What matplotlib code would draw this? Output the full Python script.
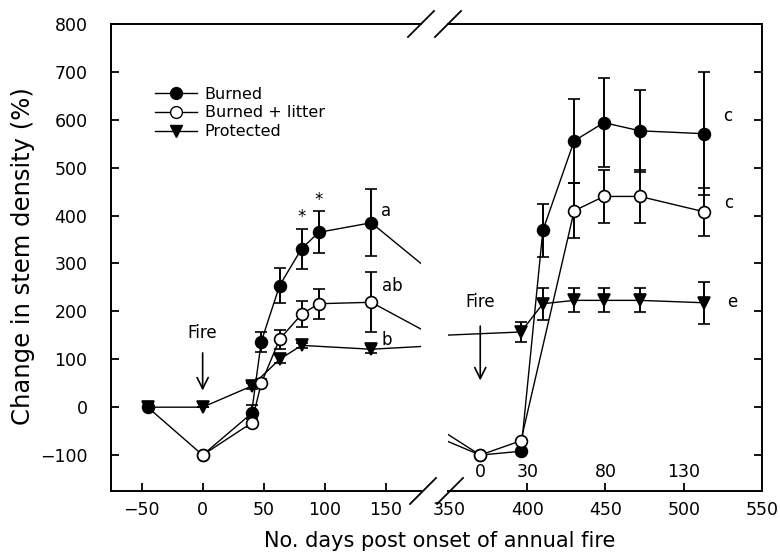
import numpy as np
import matplotlib
matplotlib.use("Agg")
import matplotlib.pyplot as plt
from matplotlib.lines import Line2D

# days since onset of the first annual fire (second fire starts at day 370)
burned_days = [-45, 0, 40, 48, 63, 81, 95, 138, 370, 396, 410, 430, 449, 472, 513]
burned_val = [0, -100, -13, 137, 254, 331, 365, 385, -100, -92, 369, 556, 594, 577, 571]
burned_err = [0, 0, 18, 21, 37, 42, 44, 70, 0, 0, 56, 88, 93, 85, 128]

litter_days = [0, 40, 48, 63, 81, 95, 138, 370, 396, 430, 449, 472, 513]
litter_val = [-100, -33, 50, 142, 194, 216, 219, -100, -70, 410, 440, 440, 408]
litter_err = [0, 8, 8, 20, 27, 31, 63, 0, 0, 57, 55, 55, 50]

prot_days = [-45, 0, 40, 63, 81, 138, 396, 410, 430, 449, 472, 513]
prot_val = [0, 0, 44, 100, 129, 121, 157, 216, 223, 223, 223, 218]
prot_err = [0, 0, 6, 8, 6, 8, 21, 33, 25, 25, 25, 44]

second_fire = 370
second_offsets = [0, 30, 80, 130]

# significance letters: (panel, x, y, text)
letters_left = [(150, 410, "a"), (155, 254, "ab"), (151, 140, "b")]
letters_right = [(528, 608, "c"), (529, 427, "c"), (531, 219, "e")]
stars = [(81, 398), (95, 433)]

plt.rcParams["font.family"] = "DejaVu Sans"
fig = plt.figure(figsize=(7.8, 5.58), dpi=100)
W, H = 780.0, 558.0
ax1 = fig.add_axes([111 / W, 67 / H, 310 / W, 467 / H])
ax2 = fig.add_axes([448 / W, 67 / H, 314 / W, 467 / H])

ebkw = dict(color="black", lw=1.0, elinewidth=1.4, capsize=4.5, capthick=1.4,
            markeredgewidth=1.2, markeredgecolor="black")
for ax in (ax1, ax2):
    ax.errorbar(prot_days, prot_val, yerr=prot_err, fmt="-v", ms=8,
                markerfacecolor="black", zorder=2, **ebkw)
    ax.errorbar(burned_days, burned_val, yerr=burned_err, fmt="-o", ms=8.5,
                markerfacecolor="black", zorder=3, **ebkw)
    ax.errorbar(litter_days, litter_val, yerr=litter_err, fmt="-o", ms=8.5,
                markerfacecolor="white", zorder=4, **ebkw)
    ax.set_ylim(-175, 800)
    ax.set_yticks(np.arange(-100, 801, 100))
    ax.tick_params(direction="in", length=6, width=1.3, labelsize=12.5)
    ax.tick_params(axis="x", pad=7)
    for s in ax.spines.values():
        s.set_linewidth(1.4)

ax1.set_xlim(-75, 178.7)
ax1.set_xticks([-50, 0, 50, 100, 150])
ax1.set_xticklabels(["\u221250", "0", "50", "100", "150"])
ax1.set_yticklabels(["\u2212100"] + [str(v) for v in range(0, 801, 100)])
ax1.tick_params(axis="y", pad=17)
ax1.spines["right"].set_visible(False)

ax2.set_xlim(349.4, 550)
ax2.set_xticks([350, 400, 450, 500, 550])
ax2.xaxis.get_major_ticks()[0].tick1line.set_visible(False)
ax2.xaxis.get_major_ticks()[-1].tick1line.set_visible(False)
ax2.spines["left"].set_visible(False)
ax2.yaxis.tick_right()
ax2.tick_params(axis="y", labelright=False)

# fire arrows
ax1.annotate("", xy=(0, 29), xytext=(0, 119),
             arrowprops=dict(arrowstyle="->", lw=1.2, mutation_scale=20, color="black"))
ax1.text(0, 154, "Fire", ha="center", va="center", fontsize=12)
ax2.annotate("", xy=(second_fire, 50), xytext=(second_fire, 175),
             arrowprops=dict(arrowstyle="->", lw=1.2, mutation_scale=20, color="black"))
ax2.text(second_fire, 219, "Fire", ha="center", va="center", fontsize=12)

for d in second_offsets:
    ax2.text(second_fire + d, -136, str(d), ha="center", va="center", fontsize=12.5)

for x, y, t in letters_left:
    ax1.text(x, y, t, ha="center", va="center", fontsize=12)
for x, y, t in letters_right:
    ax2.text(x, y, t, ha="center", va="center", fontsize=12)
for x, y in stars:
    ax1.text(x, y, "*", ha="center", va="center", fontsize=12)

handles = [
    Line2D([0], [0], color="black", lw=1.0, marker="o", ms=8.5, mfc="black", mec="black"),
    Line2D([0], [0], color="black", lw=1.0, marker="o", ms=8.5, mfc="white", mec="black"),
    Line2D([0], [0], color="black", lw=1.0, marker="v", ms=8, mfc="black", mec="black"),
]
ax1.legend(handles, ["Burned", "Burned + litter", "Protected"], loc="upper left",
           bbox_to_anchor=(0.142, 0.866), frameon=False, fontsize=11.5,
           borderpad=0, borderaxespad=0, handlelength=2.6, handletextpad=0.5,
           labelspacing=0.24)

# axis break marks
def slash(xc, yc):
    x0, x1 = (xc - 13) / W, (xc + 13) / W
    y0, y1 = 1 - (yc + 13) / H, 1 - (yc - 13) / H
    fig.add_artist(Line2D([x0, x1], [y0, y1], color="black", lw=1.3,
                          transform=fig.transFigure))

for xc, yc in [(421, 24), (448, 24), (423, 491), (450, 491)]:
    slash(xc, yc)

fig.text(440 / W, 1 - 541 / H, "No. days post onset of annual fire",
         ha="center", va="center", fontsize=15)
fig.text(11 / W, 1 - 256 / H, "Change in stem density (%)", rotation=90,
         ha="left", va="center", fontsize=17.5)

fig.savefig("out.png", dpi=100)
